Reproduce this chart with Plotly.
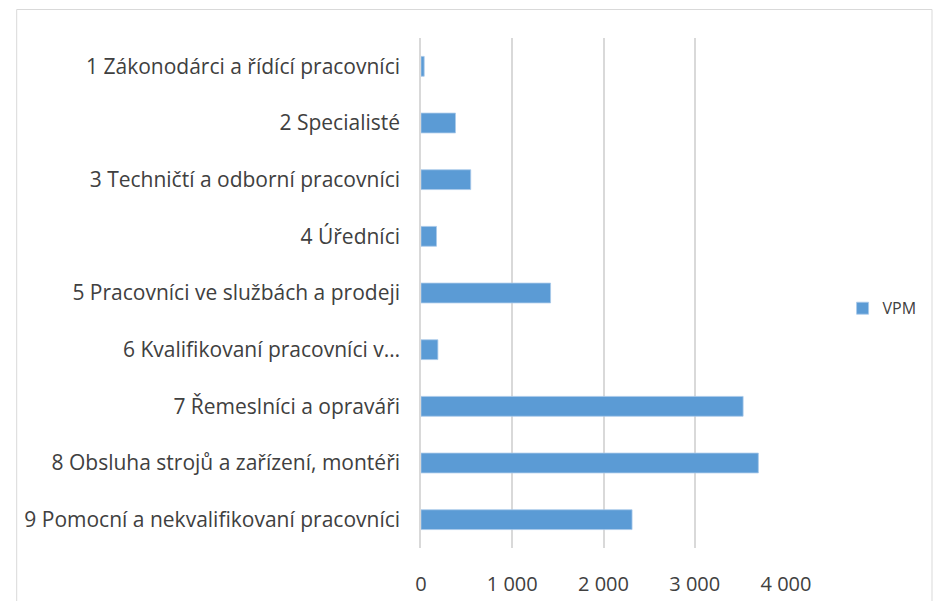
import plotly.graph_objects as go

KATEGORIE = [
    "1 Zákonodárci a řídící pracovníci",
    "2 Specialisté",
    "3 Techničtí a odborní pracovníci",
    "4 Úředníci",
    "5 Pracovníci ve službách a prodeji",
    "6 Kvalifikovaní pracovníci v…",
    "7 Řemeslníci a opraváři",
    "8 Obsluha strojů a zařízení, montéři",
    "9 Pomocní a nekvalifikovaní pracovníci",
]
HODNOTY = [35, 378, 545, 170, 1420, 185, 3530, 3697, 2313]
OSA_X = [0, 1000, 2000, 3000, 4000]

MODRA = "#5b9bd5"
SEDA_MRIZKA = "#d9d9d9"
TEXT = "#404040"

fig = go.Figure()

fig.add_trace(
    go.Bar(
        x=HODNOTY,
        y=KATEGORIE,
        orientation="h",
        name="VPM",
        marker=dict(
            color=MODRA,
            line=dict(color="#a9c9ea", width=0.8)
        ),
        width=0.35
    )
)

# ramecek kolem celeho grafu
fig.add_shape(
    type="rect",
    xref="paper",
    yref="paper",
    x0=-1.1077,
    x1=1.40,
    y0=-0.2,
    y1=1.0559,
    line=dict(color="#d9d9d9", width=1),
    layer="below"
)

fig.update_layout(
    width=934,
    height=601,
    paper_bgcolor="white",
    plot_bgcolor="white",
    separators=", ",
    margin=dict(l=421, r=137, t=38, b=53),
    font=dict(
        family="Open Sans",
        size=15,
        color=TEXT
    ),
    showlegend=True,
    legend=dict(
        x=1.155,
        y=0.47,
        xanchor="left",
        yanchor="middle",
        font=dict(size=16, color=TEXT),
        itemwidth=30
    )
)

fig.update_xaxes(
    range=[0, 4000],
    tickvals=OSA_X,
    tickformat=",d",
    showgrid=True,
    gridcolor=SEDA_MRIZKA,
    gridwidth=1.5,
    zeroline=False,
    showline=False,
    ticks="",
    automargin=False,
    ticklabelstandoff=22,
    tickfont=dict(size=20, color=TEXT)
)

fig.update_yaxes(
    autorange="reversed",
    showgrid=False,
    showline=True,
    linecolor=SEDA_MRIZKA,
    linewidth=1.5,
    ticks="",
    automargin=False,
    ticklabelstandoff=15,
    tickfont=dict(size=21, color=TEXT)
)

fig.write_html(
    "out.html",
    config={"displayModeBar": False},
    post_script="document.body.style.margin='0';"
)
